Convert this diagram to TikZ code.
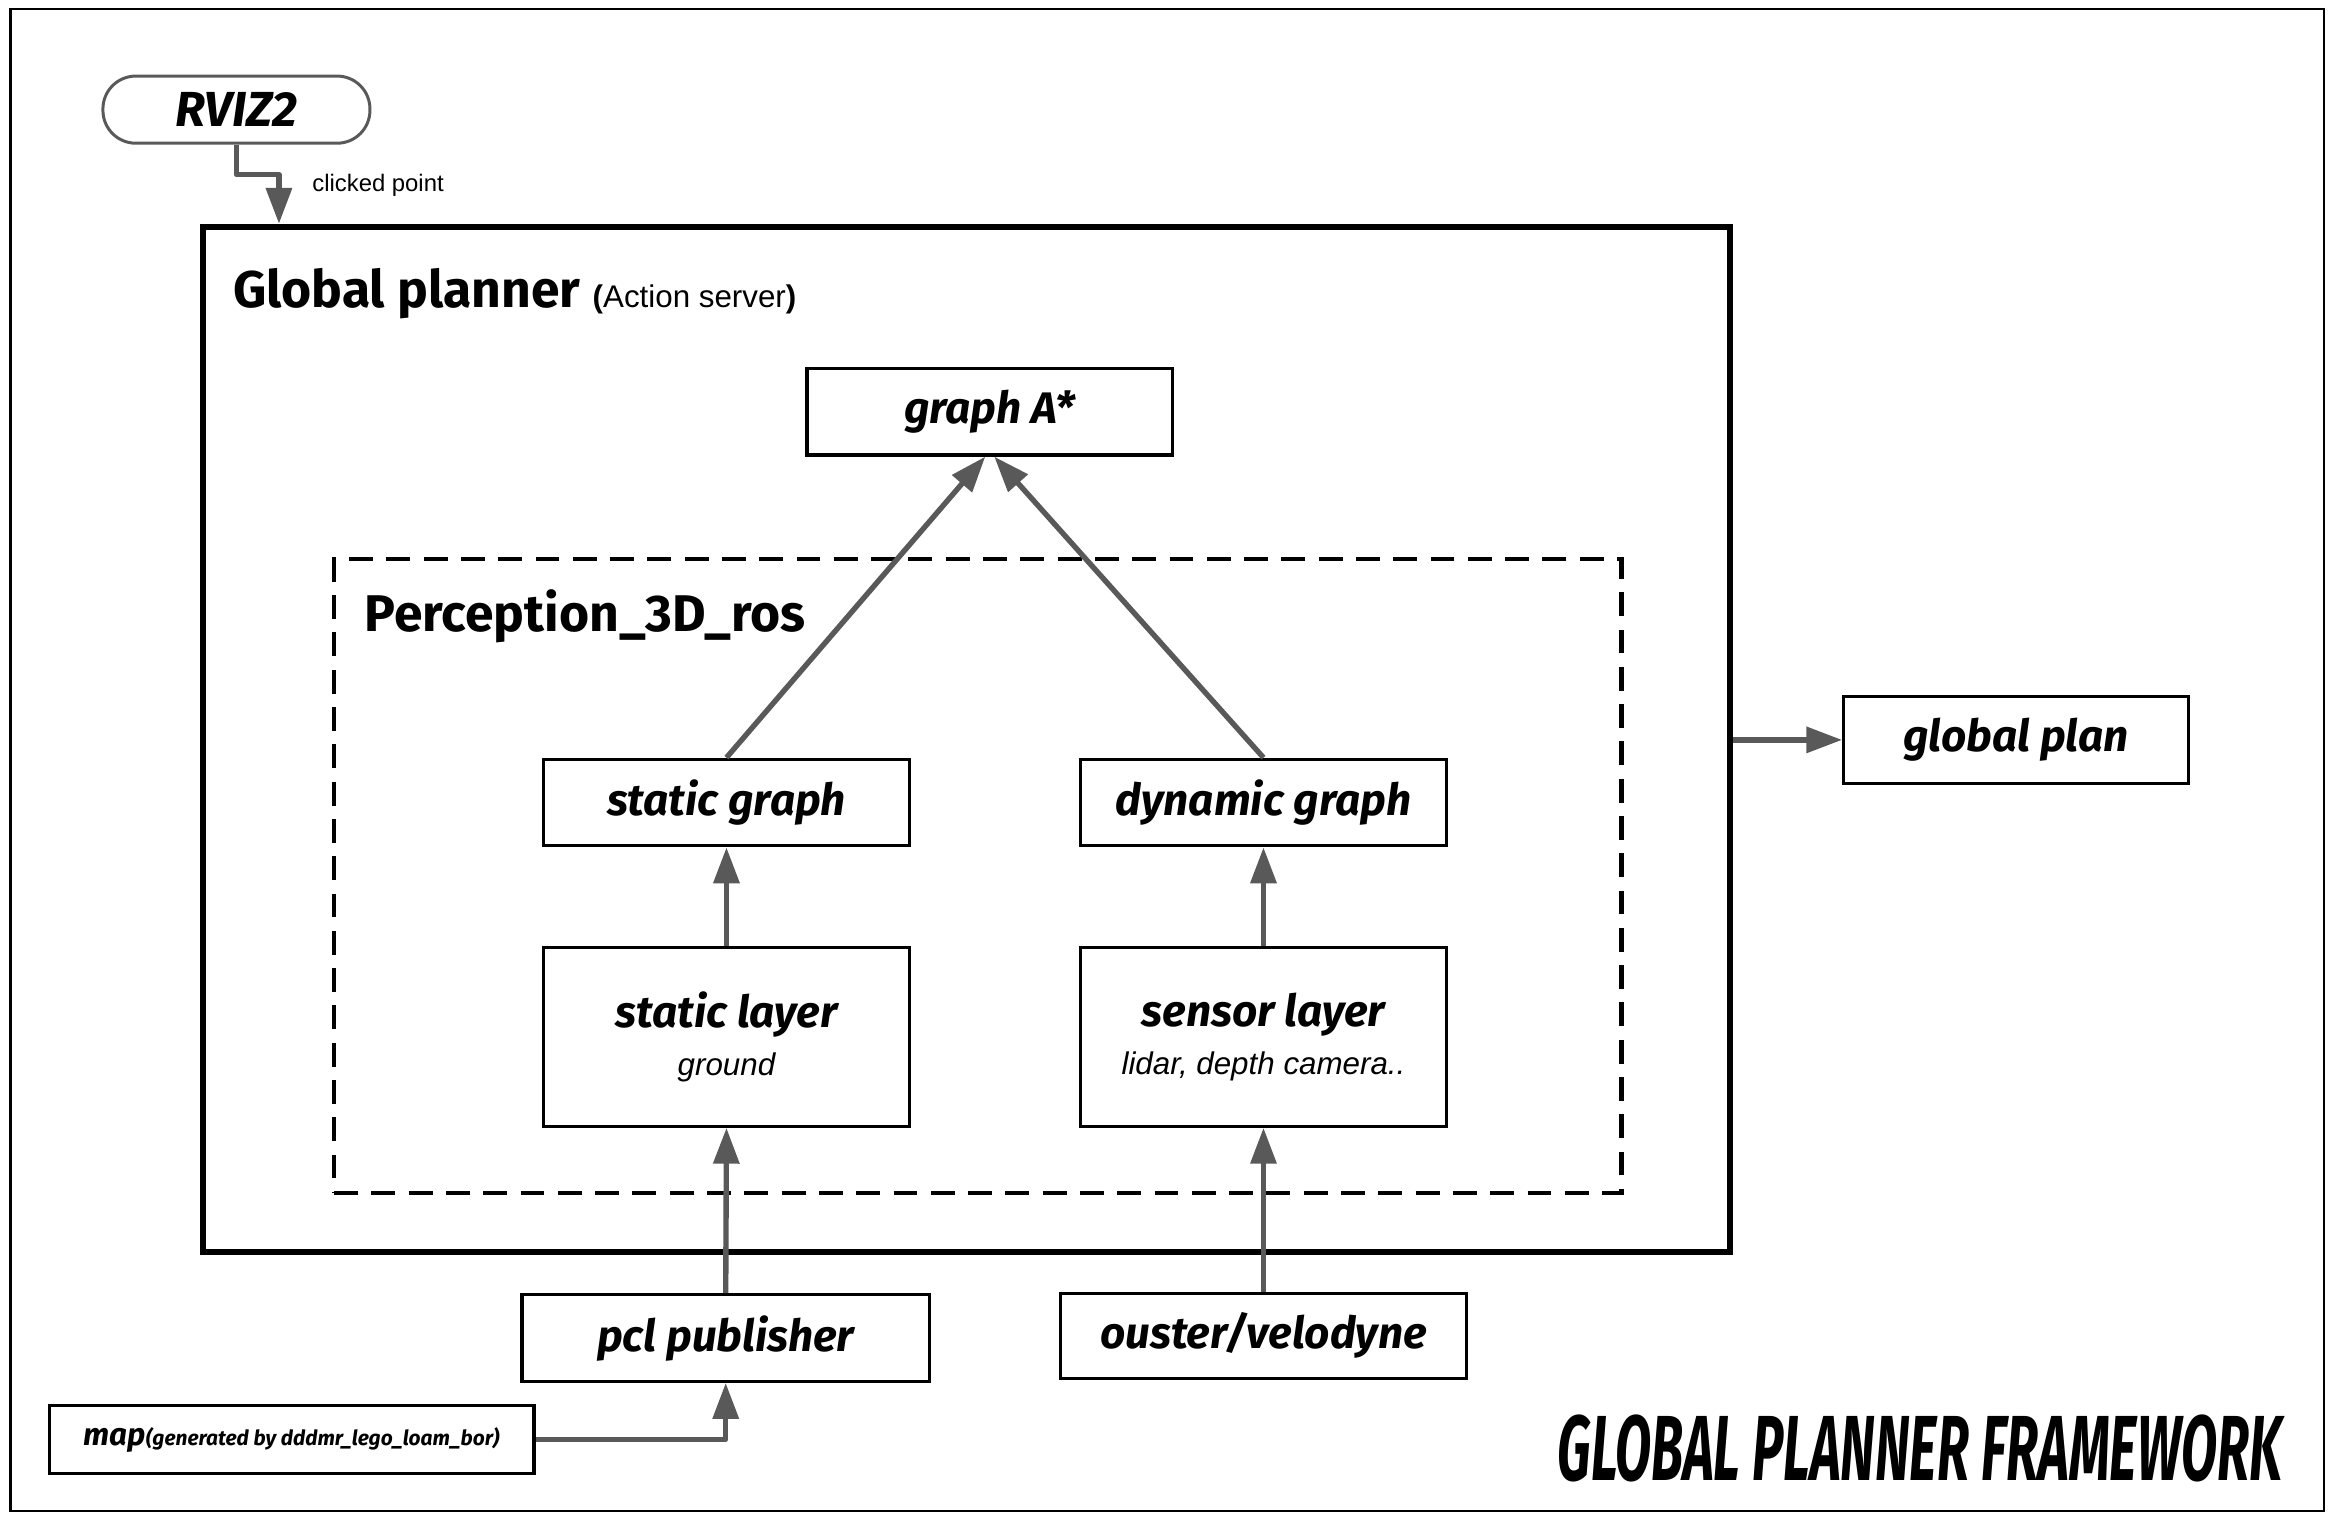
\documentclass[tikz,border=0pt]{standalone}
\usepackage{fontspec}
\setmainfont{Liberation Sans}
\newfontfamily\boxfont{Fira Sans}
\usetikzlibrary{arrows.meta,positioning}

\definecolor{arrowgray}{HTML}{595959}
\newcommand{\subline}{\normalfont\itshape\fontsize{10.5}{12}\selectfont}

\tikzset{
	block/.style={draw=black, line width=1.1pt, fill=white, inner sep=0pt,
		font=\boxfont\bfseries\itshape\fontsize{14.8}{17}\selectfont,
		minimum width=122.5pt, minimum height=29pt, align=center},
	flow/.style={draw=arrowgray, line width=1.8pt, line join=round,
		-{Triangle[length=12pt,width=8.5pt]}},
	heading/.style={anchor=base west, inner sep=0pt,
		font=\boxfont\bfseries\fontsize{17.3}{20}\selectfont},
}

\begin{document}
\begin{tikzpicture}[x=0.5pt, y=-0.5pt]
		\useasboundingbox (0,0) rectangle (1568,1022);
		\draw[line width=0.8pt] (7,6) rectangle (1558,1013);
		% containers
		\node[draw, line width=2pt, minimum width=512pt, minimum height=343.5pt,
		      inner sep=0pt] (gp) at (648,495.5) {};
		\node[draw, line width=1.4pt, dash pattern=on 8pt off 4.5pt,
		      minimum width=431.5pt, minimum height=212.5pt, inner sep=0pt] (perc) at (655.5,587.5) {};
		\node[heading] (gptitle) at (156,206) {Global planner
		      {\normalfont\fontsize{10.5}{12}\selectfont\textbf{(}Action server\textbf{)}}};
		\node[heading] (perctitle) at (244,423) {Perception\_3D\_ros};
		% blocks
		\node[block, draw=arrowgray, line width=1pt, rounded corners=11pt,
		      font=\boxfont\bfseries\itshape\fontsize{16.5}{18}\selectfont,
		      minimum width=89.5pt, minimum height=22.5pt] (rviz) at (158.5,73.5) {RVIZ2};
		\node[anchor=west, font=\normalfont\fontsize{8}{10}\selectfont, inner sep=0pt] (clicked) at (209,124) {clicked point};
		\node[block] (astar) at (663.5,276) {graph A*};
		\node[block] (sg) at (487,538) {static graph};
		\node[block] (dg) at (847,538) {dynamic graph};
		\node[block, minimum height=60pt] (sl) at (487,695)
		      {static layer\\[-1pt]{\subline ground}};
		\node[block, minimum height=60pt] (sens) at (847,695)
		      {sensor layer\\[-1pt]{\subline lidar, depth camera..}};
		\node[block, minimum width=136.5pt] (pcl) at (486.5,897) {pcl publisher};
		\node[block, minimum width=136pt, minimum height=28.5pt] (ouster) at (847,895.5) {ouster/velodyne};
		\node[block, minimum width=162.5pt, minimum height=23pt,
		      font=\boxfont\bfseries\itshape\fontsize{10.5}{12}\selectfont] (map) at (195.5,965)
		      {map{\fontsize{7}{8}\selectfont(generated by dddmr\_lego\_loam\_bor)}};
		\node[block, minimum width=115.5pt] (plan) at (1351.5,496) {global plan};
		\node[font=\boxfont\bfseries\itshape\fontsize{31}{34}\selectfont, inner sep=0pt] (frametitle) at (1287,971)
		      {\scalebox{0.57}[1]{GLOBAL PLANNER FRAMEWORK}};
		% connectors
		\draw[flow] (rviz.south) -- ++(0,20) -| ([xshift=26.5pt]gp.north west);
		\draw[flow] (sg.north) -- ([xshift=-1.5pt]astar.south);
		\draw[flow] (dg.north) -- ([xshift=1.5pt]astar.south);
		\draw[flow] (sl.north) -- (sg.south);
		\draw[flow] (sens.north) -- (dg.south);
		\draw[flow] (pcl.north) -- (sl.south);
		\draw[flow] (ouster.north) -- (sens.south);
		\draw[flow] (map.east) -| (pcl.south);
		\draw[flow] (gp.east |- plan.west) -- (plan.west);
\end{tikzpicture}
\end{document}
